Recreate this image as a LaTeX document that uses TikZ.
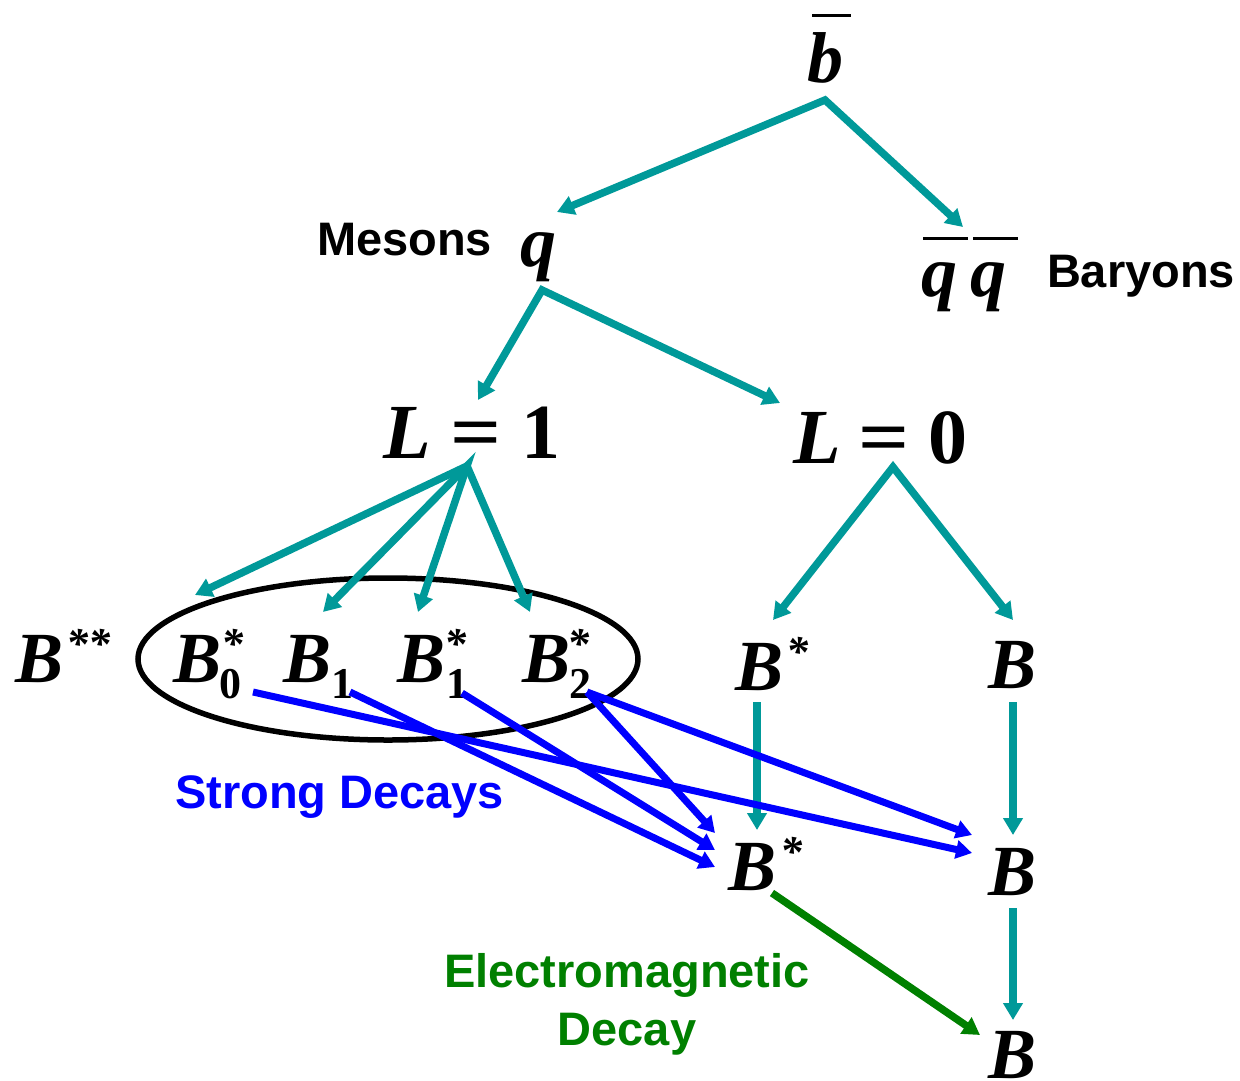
\documentclass[tikz,border=0pt]{standalone}
\usepackage{fontspec}
\setmainfont{Liberation Serif}
\newfontfamily\arialf{Liberation Sans}
\usetikzlibrary{arrows.meta,shapes.geometric}
\definecolor{tealc}{RGB}{0,153,153}
\definecolor{bluec}{RGB}{0,0,255}
\definecolor{greenc}{RGB}{0,128,0}
\newcommand\symf{\fontsize{72}{72}\selectfont\bfseries\itshape}
\newcommand\smf{\fontsize{44}{44}\selectfont\bfseries}
% B with superscript star (#1 kern) and subscript (#2 kern, #3 digit)
\newcommand\Bsubsup[3]{B\rlap{\kern#1\raisebox{24pt}{\smf\itshape *}}\kern#2\raisebox{-16pt}{\smf\upshape #3}}
\newcommand\Bsub[2]{B\kern#1\raisebox{-16pt}{\smf\upshape #2}}
\newcommand\Bsup[2]{B\kern#1\raisebox{24pt}{\smf\itshape #2}}
\newcommand\beq{{\upshape\scalebox{1.15}[1]{=}}}
\begin{document}
\begin{tikzpicture}[x=1pt,y=-1pt,
  every node/.style={inner sep=0pt,outer sep=0pt},
  sym/.style={font=\symf,anchor=base west},
  big/.style={font=\fontsize{78}{78}\selectfont\bfseries\itshape,anchor=base west},
  lbl/.style={font=\arialf\fontsize{47}{47}\selectfont\bfseries,anchor=base west},
  bar/.style={line width=3pt},
  tarr/.style={draw=tealc,line width=7.5pt,-{Triangle[length=17pt,width=19pt]}},
  tarr2/.style={tarr,{Triangle[length=17pt,width=19pt]}-{Triangle[length=17pt,width=19pt]}},
  barr/.style={draw=bluec,line width=7pt,-{Triangle[length=16pt,width=18pt]}},
  garr/.style={draw=greenc,line width=7.5pt,-{Triangle[length=17pt,width=19pt]}},
  grp/.style={draw=black,line width=5.5pt,ellipse,minimum width=500pt,minimum height=162pt}
]
\useasboundingbox (0,0) rectangle (1240,1080);

% ---- labels
\node[sym] (bbar) at (807,82) {b};
\draw[bar] (812,15) -- (851,15);
\node[lbl] (mes) at (317,255) {Mesons};
\node[sym] (q) at (520,266) {q};
\node[sym] (qq) at (921,296) {q\kern14pt q};
\draw[bar] (923,238) -- (968,238);
\draw[bar] (973,238) -- (1018,238);
\node[lbl] (bar) at (1047,287) {Baryons};
\node[big] (L1) at (383,458) {L\kern20pt\beq\kern20pt{\upshape 1}};
\node[big] (L0) at (793,463) {L\kern18pt\beq\kern19pt{\upshape 0}};

\node[sym] (Bss) at (15,682) {\Bsup{3pt}{**}};
\node[grp] (grp) at (388,659) {};
\node[sym] (B0s) at (173,682) {\Bsubsup{0pt}{-2pt}{0}};
\node[sym] (B1) at (283,682) {\Bsub{0pt}{1}};
\node[sym] (B1s) at (397,682) {\Bsubsup{-1pt}{1pt}{1}};
\node[sym] (B2s) at (522,682) {\Bsubsup{-3pt}{-1pt}{2}};
\node[sym] (Bsu) at (735,690) {\Bsup{3pt}{*}};
\node[sym] (Bu) at (988,688) {B};
\node[sym] (Bsm) at (728,890) {\Bsup{4pt}{*}};
\node[sym] (Bm) at (988,895) {B};
\node[sym] (Bb) at (988,1078) {B};

\node[lbl,text=bluec] (sd) at (175,808) {Strong Decays};
\node[lbl,text=greenc,anchor=base] (em1) at (627,987) {Electromagnetic};
\node[lbl,text=greenc,anchor=base] (em2) at (627,1045) {Decay};

% ---- connector ends
\coordinate (b-o) at (825,100);
\coordinate (q-i) at (557,212);
\coordinate (qq-i) at (963,227);
\coordinate (q-o) at (542,290);
\coordinate (L1-i) at (478,400);
\coordinate (L0-i) at (780,403);
\coordinate (L1-o) at (467,466);
\coordinate (L0-o) at (893,467);
\coordinate (Bss-i) at (195,595);
\coordinate (B0s-i) at (323,612);
\coordinate (B1s-i) at (418,612);
\coordinate (B2s-i) at (530,612);
\coordinate (Bsu-i) at (773,620);
\coordinate (Bu-i) at (1013,620);
\coordinate (Bsu-o) at (757,702);
\coordinate (Bu-o) at (1013,702);
\coordinate (Bsm-i1) at (715,833);
\coordinate (Bsm-i2) at (715,850);
\coordinate (Bsm-i3) at (715,867);
\coordinate (Bsm-i0) at (757,830);
\coordinate (Bm-i1) at (972,835);
\coordinate (Bm-i2) at (972,853);
\coordinate (Bm-i0) at (1013,835);
\coordinate (B0s-o) at (253,692);
\coordinate (B1-o) at (350,692);
\coordinate (B1s-o) at (462,693);
\coordinate (B2s-o) at (587,692);
\coordinate (Bsm-o) at (772,893);
\coordinate (Bm-o) at (1013,908);
\coordinate (Bb-i) at (1013,1020);
\coordinate (Bb-ig) at (980,1035);

% ---- teal arrows
\draw[tarr2] (q-i) -- (b-o) -- (qq-i);
\draw[tarr2] (L1-i) -- (q-o) -- (L0-i);
\draw[tarr2] (Bss-i) -- (L1-o) -- (B2s-i);
\draw[tarr2] (B0s-i) -- (L1-o) -- (B1s-i);
\draw[tarr2] (Bsu-i) -- (L0-o) -- (Bu-i);
\draw[tarr] (Bsu-o) -- (Bsm-i0);
\draw[tarr] (Bu-o) -- (Bm-i0);
\draw[tarr] (Bm-o) -- (Bb-i);

% ---- blue arrows
\draw[barr] (B0s-o) -- (Bm-i2);
\draw[barr] (B1-o) -- (Bsm-i3);
\draw[barr] (B1s-o) -- (Bsm-i2);
\draw[barr] (B2s-o) -- (Bsm-i1);
\draw[barr] (B2s-o) -- (Bm-i1);

% ---- green arrow
\draw[garr] (Bsm-o) -- (Bb-ig);
\end{tikzpicture}
\end{document}
